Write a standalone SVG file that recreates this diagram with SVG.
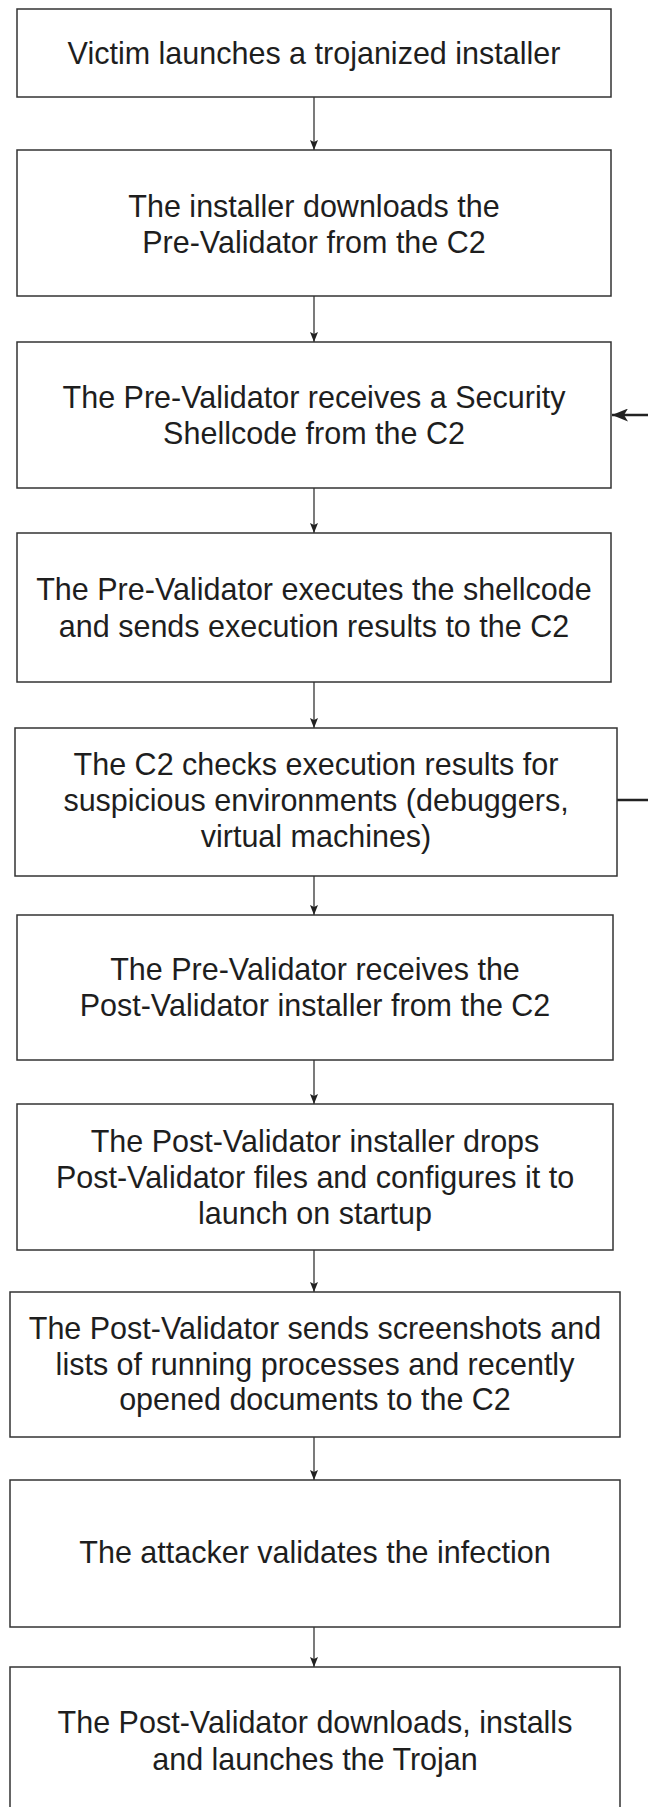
<svg xmlns="http://www.w3.org/2000/svg" width="648" height="1807" viewBox="0 0 648 1807">
  <style>
    .box { fill: #ffffff; stroke: #333333; stroke-width: 1.5; }
    .lbl { font-family: "Liberation Sans", Arial, sans-serif; font-size: 30.5px; fill: #1e1e1e; text-anchor: middle; }
    .flow { fill: none; stroke: #333333; stroke-width: 1.3; }
    .loop { fill: none; stroke: #222222; stroke-width: 2.6; }
  </style>
  <defs>
    <marker id="head" markerUnits="userSpaceOnUse" viewBox="0 0 10 8" refX="10" refY="4" markerWidth="10" markerHeight="8" orient="auto">
      <path d="M0,0 L10,4 L0,8 L2,4 Z" fill="#222222"/>
    </marker>
    <marker id="headBig" markerUnits="userSpaceOnUse" viewBox="0 0 16 13" refX="16" refY="6.5" markerWidth="16" markerHeight="13" orient="auto">
      <path d="M0,0 L16,6.5 L0,13 L4,6.5 Z" fill="#222222"/>
    </marker>
  </defs>

  <rect width="648" height="1807" fill="#ffffff"/>

  <g id="connectors">
    <line class="flow" x1="314" y1="97" x2="314" y2="150" marker-end="url(#head)"/>
    <line class="flow" x1="314" y1="296" x2="314" y2="342" marker-end="url(#head)"/>
    <line class="flow" x1="314" y1="488" x2="314" y2="533" marker-end="url(#head)"/>
    <line class="flow" x1="314" y1="682" x2="314" y2="728" marker-end="url(#head)"/>
    <line class="flow" x1="314" y1="876" x2="314" y2="915" marker-end="url(#head)"/>
    <line class="flow" x1="314" y1="1060" x2="314" y2="1104" marker-end="url(#head)"/>
    <line class="flow" x1="314" y1="1250" x2="314" y2="1292" marker-end="url(#head)"/>
    <line class="flow" x1="314" y1="1437" x2="314" y2="1480" marker-end="url(#head)"/>
    <line class="flow" x1="314" y1="1627" x2="314" y2="1667" marker-end="url(#head)"/>
    <!-- loop back from the C2 check to the security shellcode step -->
    <path class="loop" d="M617,800 H662 V415 H612" marker-end="url(#headBig)"/>
  </g>

  <g id="step1">
    <rect class="box" x="17" y="9" width="594" height="88"/>
    <text class="lbl" x="314" y="63.7">Victim launches a trojanized installer</text>
  </g>
  <g id="step2">
    <rect class="box" x="17" y="150" width="594" height="146"/>
    <text class="lbl" x="314" y="216.7">The installer downloads the</text>
    <text class="lbl" x="314" y="252.5">Pre-Validator from the C2</text>
  </g>
  <g id="step3">
    <rect class="box" x="17" y="342" width="594" height="146"/>
    <text class="lbl" x="314" y="408">The Pre-Validator receives a Security</text>
    <text class="lbl" x="314" y="444">Shellcode from the C2</text>
  </g>
  <g id="step4">
    <rect class="box" x="17" y="533" width="594" height="149"/>
    <text class="lbl" x="314" y="600">The Pre-Validator executes the shellcode</text>
    <text class="lbl" x="314" y="636.5">and sends execution results to the C2</text>
  </g>
  <g id="step5">
    <rect class="box" x="15" y="728" width="602" height="148"/>
    <text class="lbl" x="316" y="775">The C2 checks execution results for</text>
    <text class="lbl" x="316" y="811">suspicious environments (debuggers,</text>
    <text class="lbl" x="316" y="847">virtual machines)</text>
  </g>
  <g id="step6">
    <rect class="box" x="17" y="915" width="596" height="145"/>
    <text class="lbl" x="315" y="980">The Pre-Validator receives the</text>
    <text class="lbl" x="315" y="1016">Post-Validator installer from the C2</text>
  </g>
  <g id="step7">
    <rect class="box" x="17" y="1104" width="596" height="146"/>
    <text class="lbl" x="315" y="1151.7">The Post-Validator installer drops</text>
    <text class="lbl" x="315" y="1188">Post-Validator files and configures it to</text>
    <text class="lbl" x="315" y="1224">launch on startup</text>
  </g>
  <g id="step8">
    <rect class="box" x="10" y="1292" width="610" height="145"/>
    <text class="lbl" x="315" y="1338.5">The Post-Validator sends screenshots and</text>
    <text class="lbl" x="315" y="1375">lists of running processes and recently</text>
    <text class="lbl" x="315" y="1410">opened documents to the C2</text>
  </g>
  <g id="step9">
    <rect class="box" x="10" y="1480" width="610" height="147"/>
    <text class="lbl" x="315" y="1563.3">The attacker validates the infection</text>
  </g>
  <g id="step10">
    <rect class="box" x="10" y="1667" width="610" height="146"/>
    <text class="lbl" x="315" y="1733.3">The Post-Validator downloads, installs</text>
    <text class="lbl" x="315" y="1770">and launches the Trojan</text>
  </g>
</svg>
